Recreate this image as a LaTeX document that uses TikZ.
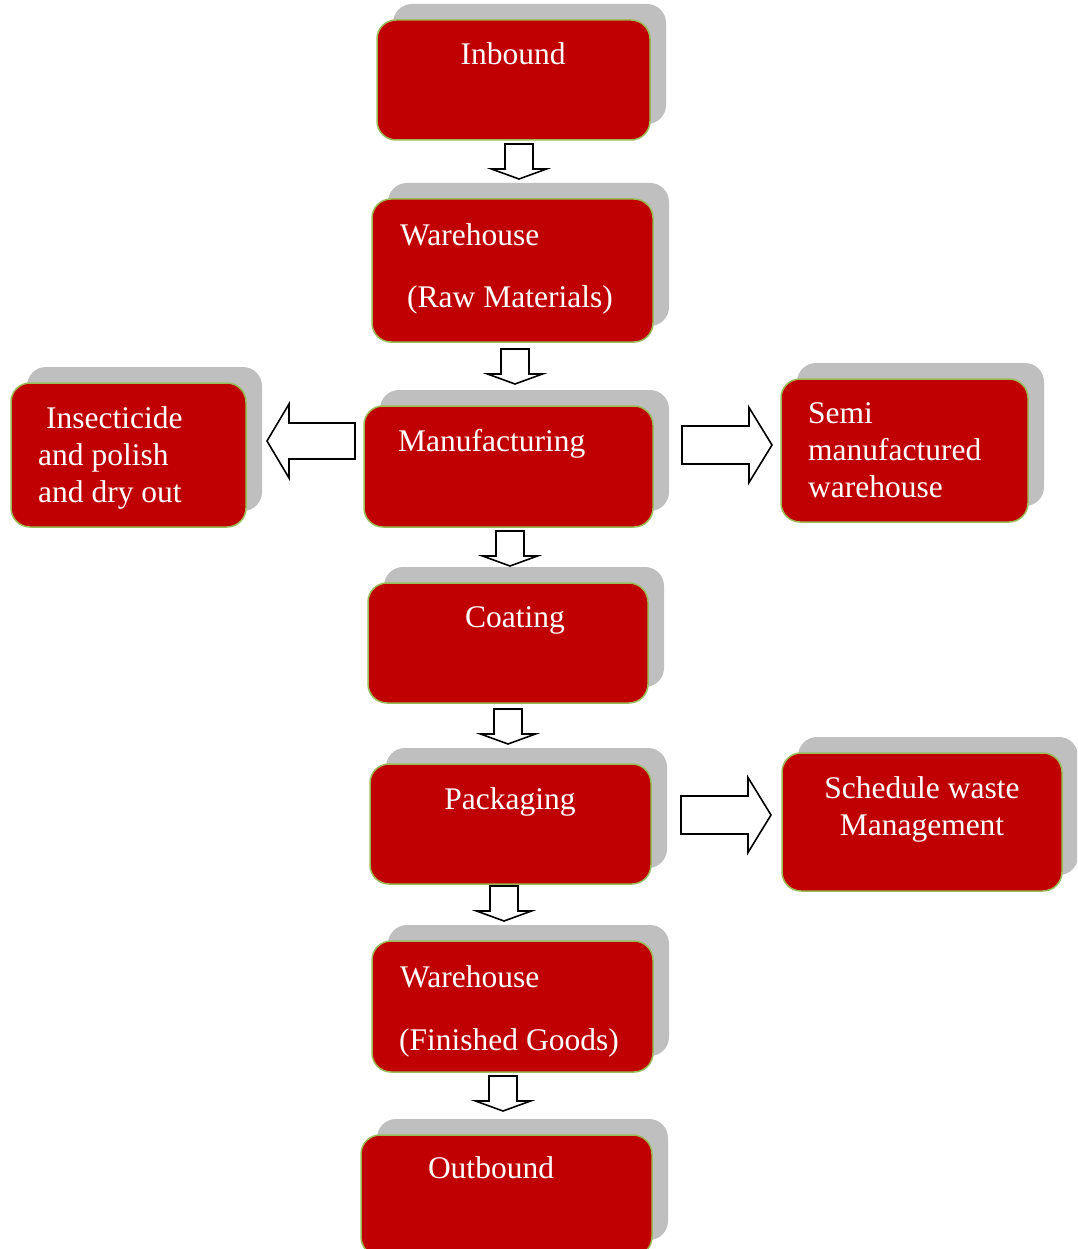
\documentclass[tikz,border=0pt]{standalone}
\usepackage{fontspec}
\setmainfont{Liberation Serif}
\usetikzlibrary{shadows,calc}

\definecolor{boxred}{HTML}{C00000}
\definecolor{boxedge}{HTML}{9BBB59}
\definecolor{shadowgray}{HTML}{BFBFBF}

\tikzset{
  stagebox/.style={rectangle, rounded corners=19pt, fill=boxred, draw=boxedge,
    line width=1.5pt, inner sep=0pt,
    copy shadow={shadow xshift=16pt, shadow yshift=16pt, fill=shadowgray, draw=none}},
  lbl/.style={inner sep=0pt, text=white, font=\fontsize{31.5}{37}\selectfont},
  blockarrow/.style={draw=black, fill=white, line width=1.6pt, line join=miter},
  % hollow arrow pointing down; origin at the middle of the shaft's top edge
  pics/downblock/.style={code={
    \draw[blockarrow] (-14,0) -- (14,0) -- (14,25) -- (27.5,25) -- (0,35)
      -- (-27.5,25) -- (-14,25) -- cycle;}},
  % hollow arrow pointing right; origin at the middle of the shaft's left edge
  pics/rightblock/.style={code={
    \draw[blockarrow] (0,-19) -- (67,-19) -- (67,-37.5) -- (90,0) -- (67,37.5)
      -- (67,19) -- (0,19) -- cycle;}},
  % hollow arrow pointing left; origin at the middle of the shaft's right edge
  pics/leftblock/.style={code={
    \draw[blockarrow] (0,-18) -- (-66,-18) -- (-66,-37) -- (-88,0) -- (-66,37)
      -- (-66,18) -- (0,18) -- cycle;}}
}

\begin{document}
\begin{tikzpicture}[x=1pt, y=-1pt]
  \useasboundingbox (0,0) rectangle (1077,1249);
  \clip (0,0) rectangle (1077,1249);

  % process stages
  \node[stagebox, minimum width=273pt, minimum height=120pt] (inb)  at (513.5,80)   {};
  \node[stagebox, minimum width=281pt, minimum height=143pt] (wrm)  at (512.5,270.5) {};
  \node[stagebox, minimum width=289pt, minimum height=121pt] (man)  at (508.5,466.5) {};
  \node[stagebox, minimum width=235pt, minimum height=144pt] (ins)  at (128.5,455)  {};
  \node[stagebox, minimum width=247pt, minimum height=143pt] (semi) at (904.5,450.5) {};
  \node[stagebox, minimum width=280pt, minimum height=120pt] (coat) at (508,643)    {};
  \node[stagebox, minimum width=281pt, minimum height=120pt] (pack) at (510.5,824)  {};
  \node[stagebox, minimum width=280pt, minimum height=138pt] (swm)  at (922,822)    {};
  \node[stagebox, minimum width=281pt, minimum height=131pt] (wfg)  at (512.5,1006.5) {};
  \node[stagebox, minimum width=291pt, minimum height=121pt] (outb) at (506.5,1195.5) {};

  % stage labels
  \node[lbl, anchor=base] (tinb) at (513,65) {Inbound};
  \node[lbl, anchor=base west] (twrm1) at (400,245) {Warehouse};
  \node[lbl, anchor=base west] (twrm2) at (407,307) {(Raw Materials)};
  \node[lbl, anchor=base west] (tman) at (398,451) {Manufacturing};
  \node[lbl, anchor=base west] (tins1) at (46,428) {Insecticide};
  \node[lbl, anchor=base west] (tins2) at (38,465) {and polish};
  \node[lbl, anchor=base west] (tins3) at (38,502) {and dry out};
  \node[lbl, anchor=base west] (tsemi1) at (808,423) {Semi};
  \node[lbl, anchor=base west] (tsemi2) at (808,460) {manufactured};
  \node[lbl, anchor=base west] (tsemi3) at (808,497) {warehouse};
  \node[lbl, anchor=base] (tcoat) at (515,627) {Coating};
  \node[lbl, anchor=base] (tpack) at (510,809) {Packaging};
  \node[lbl, anchor=base] (tswm1) at (922,798) {Schedule waste};
  \node[lbl, anchor=base] (tswm2) at (922,835) {Management};
  \node[lbl, anchor=base west] (twfg1) at (400,987) {Warehouse};
  \node[lbl, anchor=base west] (twfg2) at (399,1050) {(Finished Goods)};
  \node[lbl, anchor=base] (tout) at (491,1178) {Outbound};

  % flow arrows
  \pic (a1) at (519,144)  {downblock};
  \pic (a2) at (515,349)  {downblock};
  \pic (a3) at (510,531)  {downblock};
  \pic (a4) at (508,709)  {downblock};
  \pic (a5) at (504,886)  {downblock};
  \pic (a6) at (503,1076) {downblock};
  \pic (a7) at (682,445)  {rightblock};
  \pic (a8) at (681,815)  {rightblock};
  \pic (a9) at (355,441)  {leftblock};
\end{tikzpicture}
\end{document}
